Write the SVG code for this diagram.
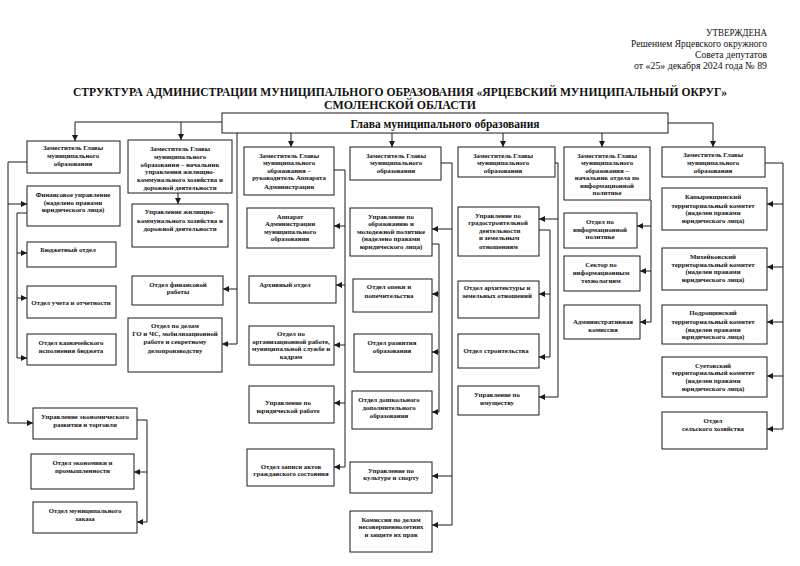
<svg xmlns="http://www.w3.org/2000/svg" width="800" height="566" viewBox="0 0 800 566">
<style>
.box{fill:#fff;stroke:#1a1a1a;stroke-width:1}
.t{font-family:"Liberation Serif","Times New Roman",serif;font-weight:bold;font-size:6.8px;text-anchor:middle;fill:#111}
.l{text-anchor:start}
.h{font-family:"Liberation Serif","Times New Roman",serif;font-size:10.5px;text-anchor:end;fill:#111}
.ti{font-family:"Liberation Serif","Times New Roman",serif;font-weight:bold;font-size:12.5px;text-anchor:middle;fill:#111}
.c{fill:none;stroke:#1a1a1a;stroke-width:1}
.a{fill:none;stroke:#1a1a1a;stroke-width:1;marker-end:url(#ah)}
</style>
<defs>
<marker id="ah" markerUnits="userSpaceOnUse" markerWidth="6" markerHeight="6" refX="6" refY="3" orient="auto">
<path d="M0,0 L6,3 L0,6 z" fill="#1a1a1a"/>
</marker>
</defs>
<rect width="800" height="566" fill="#fff"/>

<g id="header">
<text class="h" x="767" y="36" textLength="61" lengthAdjust="spacingAndGlyphs">УТВЕРЖДЕНА</text>
<text class="h" x="767" y="47" textLength="136" lengthAdjust="spacingAndGlyphs">Решением Ярцевского окружного</text>
<text class="h" x="767" y="57.5" textLength="72" lengthAdjust="spacingAndGlyphs">Совета депутатов</text>
<text class="h" x="767" y="69" textLength="133" lengthAdjust="spacingAndGlyphs">от  «25» декабря 2024 года № 89</text>
<text class="ti" x="400" y="96" textLength="654" lengthAdjust="spacingAndGlyphs">СТРУКТУРА АДМИНИСТРАЦИИ МУНИЦИПАЛЬНОГО ОБРАЗОВАНИЯ «ЯРЦЕВСКИЙ МУНИЦИПАЛЬНЫЙ ОКРУГ»</text>
<text class="ti" x="400" y="108.5" textLength="152" lengthAdjust="spacingAndGlyphs">СМОЛЕНСКОЙ ОБЛАСТИ</text>
</g>

<g id="connectors">
<path class="a" d="M222,122 H75 V141"/>
<path class="a" d="M181,122 V140"/>
<path class="c" d="M237,133 V289"/>
<path class="a" d="M237,289 H223"/>
<path class="a" d="M237,289 V344 H222"/>
<path class="a" d="M291,133 V147"/>
<path class="a" d="M392,133 V147"/>
<path class="a" d="M503,133 V147"/>
<path class="a" d="M602,133 V147"/>
<path class="a" d="M668,123 H713 V147"/>
<path class="a" d="M27,162 H8 V423 H33"/>
<path class="a" d="M8,204 H27"/>
<path class="a" d="M27,213 H17 V358 H27"/>
<path class="a" d="M17,253 H27"/>
<path class="a" d="M17,298 H27"/>
<path class="a" d="M137,420 H147 V522 H137"/>
<path class="a" d="M147,472 H134"/>
<path class="a" d="M178,193 V204"/>
<path class="a" d="M334,170 H345 V467 H334"/>
<path class="a" d="M345,226 H334"/>
<path class="a" d="M345,285 H336"/>
<path class="a" d="M345,345 H334"/>
<path class="a" d="M345,403 H334"/>
<path class="a" d="M441,163 H452 V525 H432"/>
<path class="a" d="M452,229 H432"/>
<path class="a" d="M452,476 H432"/>
<path class="a" d="M432,244 H439 V412 H432"/>
<path class="a" d="M439,294 H432"/>
<path class="a" d="M439,352 H432"/>
<path class="a" d="M555,163 H558 V397 H539"/>
<path class="a" d="M558,219 H539"/>
<path class="a" d="M539,230 H550 V357 H539"/>
<path class="a" d="M550,294 H539"/>
<path class="a" d="M651,200 V322 H640"/>
<path class="a" d="M651,226 H637"/>
<path class="a" d="M651,271 H640"/>
<path class="a" d="M765,163 H783 V429 H767"/>
<path class="a" d="M783,204 H767"/>
<path class="a" d="M783,267 H767"/>
<path class="a" d="M783,322 H767"/>
<path class="a" d="M783,376 H767"/>
</g>

<g id="n-glava"><rect class="box" x="222" y="113" width="446" height="20"/><text class="t" x="445" y="128" style="font-size:12.5px" textLength="189" lengthAdjust="spacingAndGlyphs">Глава муниципального образования</text></g>

<g id="n-z1"><rect class="box" x="27" y="141" width="93" height="32"/><text class="t"><tspan x="73" y="150">Заместитель Главы</tspan><tspan x="73" y="158">муниципального</tspan><tspan x="73" y="166">образования</tspan></text></g>
<g id="n-fin"><rect class="box" x="27" y="186" width="93" height="40"/><text class="t"><tspan x="73" y="196.5">Финансовое управление</tspan><tspan x="73" y="204.5">(наделено правами</tspan><tspan x="73" y="212">юридического лица)</tspan></text></g>
<g id="n-bud"><rect class="box" x="27" y="242" width="89" height="25"/><text class="t" x="68" y="251.5">Бюджетный отдел</text></g>
<g id="n-uch"><rect class="box" x="27" y="286" width="89" height="32"/><text class="t" x="71" y="304.5">Отдел учета и отчетности</text></g>
<g id="n-kazn"><rect class="box" x="27" y="334" width="89" height="31"/><text class="t"><tspan x="71" y="344.5">Отдел казначейского</tspan><tspan x="71" y="352.5">исполнения бюджета</tspan></text></g>
<g id="n-econ"><rect class="box" x="33" y="408" width="104" height="31"/><text class="t"><tspan x="85" y="419">Управление экономического</tspan><tspan x="85" y="427">развития и торговли</tspan></text></g>
<g id="n-ekprom"><rect class="box" x="31" y="454" width="103" height="35"/><text class="t"><tspan x="82.5" y="465">Отдел экономики и</tspan><tspan x="82.5" y="472.5">промышленности</tspan></text></g>
<g id="n-zakaz"><rect class="box" x="33" y="502" width="104" height="31"/><text class="t"><tspan x="85" y="513">Отдел муниципального</tspan><tspan x="85" y="521">заказа</tspan></text></g>

<g id="n-z2"><rect class="box" x="128" y="140" width="104" height="53"/><text class="t"><tspan x="180" y="151">Заместитель Главы</tspan><tspan x="180" y="158.5">муниципального</tspan><tspan x="180" y="166.5">образования – начальник</tspan><tspan x="180" y="174">управления жилищно-</tspan><tspan x="180" y="182">коммунального хозяйства и</tspan><tspan x="180" y="189.5">дорожной деятельности</tspan></text></g>
<g id="n-zhkh"><rect class="box" x="132" y="204" width="96" height="43"/><text class="t"><tspan x="180" y="214">Управление жилищно-</tspan><tspan x="180" y="222.5">коммунального хозяйства и</tspan><tspan x="180" y="231">дорожной деятельности</tspan></text></g>
<g id="n-finrab"><rect class="box" x="132" y="276" width="91" height="29"/><text class="t"><tspan x="178" y="286.5">Отдел финансовой</tspan><tspan x="178" y="294">работы</tspan></text></g>
<g id="n-gochs"><rect class="box" x="128" y="318" width="94" height="54"/><text class="t"><tspan x="175" y="327.5">Отдел по делам</tspan><tspan x="175" y="336">ГО и ЧС, мобилизационной</tspan><tspan x="175" y="344">работе и секретному</tspan><tspan x="175" y="352.5">делопроизводству</tspan></text></g>

<g id="n-z3"><rect class="box" x="244" y="147" width="90" height="48"/><text class="t"><tspan x="289" y="157.5">Заместитель Главы</tspan><tspan x="289" y="165">муниципального</tspan><tspan x="289" y="172.5">образования –</tspan><tspan x="289" y="180">руководитель  Аппарата</tspan><tspan x="289" y="188.5">Администрации</tspan></text></g>
<g id="n-apparat"><rect class="box" x="247" y="208" width="87" height="40"/><text class="t"><tspan x="290" y="218.5">Аппарат</tspan><tspan x="290" y="226">Администрации</tspan><tspan x="290" y="233.5">муниципального</tspan><tspan x="290" y="241">образования</tspan></text></g>
<g id="n-arhiv"><rect class="box" x="249" y="276" width="87" height="27"/><text class="t" x="285" y="286.5">Архивный отдел</text></g>
<g id="n-orgrab"><rect class="box" x="249" y="326" width="85" height="39"/><text class="t"><tspan x="291" y="336">Отдел по</tspan><tspan x="291" y="343.5">организационной работе,</tspan><tspan x="291" y="351">муниципальной службе и</tspan><tspan x="291" y="358.5">кадрам</tspan></text></g>
<g id="n-yurid"><rect class="box" x="249" y="386" width="85" height="37"/><text class="t"><tspan x="288" y="405">Управление по</tspan><tspan x="288" y="413">юридической работе</tspan></text></g>
<g id="n-zags"><rect class="box" x="247" y="449" width="87" height="37"/><text class="t"><tspan x="291" y="468.5">Отдел записи актов</tspan><tspan x="291" y="476">гражданского состояния</tspan></text></g>

<g id="n-z4"><rect class="box" x="350" y="147" width="91" height="33"/><text class="t"><tspan x="396" y="157.5">Заместитель Главы</tspan><tspan x="396" y="165">муниципального</tspan><tspan x="396" y="172.5">образования</tspan></text></g>
<g id="n-obraz"><rect class="box" x="350" y="208" width="82" height="48"/><text class="t"><tspan x="391" y="218.5">Управление по</tspan><tspan x="391" y="226">образованию и</tspan><tspan x="391" y="233.5">молодежной политике</tspan><tspan x="391" y="241">(наделено правами</tspan><tspan x="391" y="249">юридического лица)</tspan></text></g>
<g id="n-opeka"><rect class="box" x="353" y="279" width="79" height="33"/><text class="t"><tspan x="389" y="289">Отдел опеки и</tspan><tspan x="389" y="297.5">попечительства</tspan></text></g>
<g id="n-razv"><rect class="box" x="354" y="334" width="78" height="38"/><text class="t"><tspan x="392" y="345">Отдел развития</tspan><tspan x="392" y="352.5">образования</tspan></text></g>
<g id="n-doshk"><rect class="box" x="352" y="391" width="80" height="38"/><text class="t"><tspan x="389" y="402">Отдел дошкольного</tspan><tspan x="389" y="409.5">дополнительного</tspan><tspan x="389" y="417.5">образования</tspan></text></g>
<g id="n-kult"><rect class="box" x="350" y="462" width="82" height="31"/><text class="t"><tspan x="391" y="472.5">Управление по</tspan><tspan x="391" y="480">культуре и спорту</tspan></text></g>
<g id="n-komis"><rect class="box" x="350" y="511" width="82" height="41"/><text class="t"><tspan x="391" y="521.5">Комиссия по делам</tspan><tspan x="391" y="529">несовершеннолетних</tspan><tspan x="391" y="536.5">и защите их прав</tspan></text></g>

<g id="n-z5"><rect class="box" x="458" y="147" width="97" height="30"/><text class="t"><tspan x="503" y="157.5">Заместитель Главы</tspan><tspan x="503" y="165">муниципального</tspan><tspan x="503" y="172.5">образования</tspan></text></g>
<g id="n-grad"><rect class="box" x="458" y="207" width="81" height="49"/><text class="t"><tspan x="498" y="217.5">Управление по</tspan><tspan x="498" y="225">градостроительной</tspan><tspan class="l" x="479" y="232.5">деятельности</tspan><tspan class="l" x="479" y="240">и земельным</tspan><tspan class="l" x="479" y="248.5">отношениям</tspan></text></g>
<g id="n-arh"><rect class="box" x="458" y="281" width="81" height="37"/><text class="t"><tspan x="497" y="290">Отдел архитектуры и</tspan><tspan x="497" y="297.5">земельных отношений</tspan></text></g>
<g id="n-stroi"><rect class="box" x="458" y="334" width="81" height="34"/><text class="t" x="496" y="352.5">Отдел строительства</text></g>
<g id="n-imush"><rect class="box" x="458" y="386" width="81" height="29"/><text class="t"><tspan x="497" y="397">Управление по</tspan><tspan x="497" y="404.5">имуществу</tspan></text></g>

<g id="n-z6"><rect class="box" x="564" y="147" width="86" height="53"/><text class="t"><tspan x="607" y="157.5">Заместитель Главы</tspan><tspan x="607" y="165">муниципального</tspan><tspan x="607" y="172.5">образования –</tspan><tspan x="607" y="180">начальник отдела по</tspan><tspan x="607" y="187.5">информационной</tspan><tspan x="607" y="195">политике</tspan></text></g>
<g id="n-infpol"><rect class="box" x="564" y="213" width="73" height="35"/><text class="t"><tspan x="600" y="223.5">Отдел по</tspan><tspan x="600" y="231.5">информационной</tspan><tspan x="600" y="239">политике</tspan></text></g>
<g id="n-sektor"><rect class="box" x="564" y="256" width="76" height="35"/><text class="t"><tspan x="601" y="266.5">Сектор по</tspan><tspan x="601" y="275">информационным</tspan><tspan x="601" y="282.5">технологиям</tspan></text></g>
<g id="n-adm"><rect class="box" x="564" y="305" width="76" height="34"/><text class="t"><tspan x="603" y="323.5">Административная</tspan><tspan x="603" y="331.5">комиссия</tspan></text></g>

<g id="n-z7"><rect class="box" x="662" y="147" width="103" height="30"/><text class="t"><tspan x="713" y="157">Заместитель Главы</tspan><tspan x="713" y="165">муниципального</tspan><tspan x="713" y="172.5">образования</tspan></text></g>
<g id="n-kap"><rect class="box" x="662" y="188" width="105" height="42"/><text class="t"><tspan x="713" y="199">Капыревщинский</tspan><tspan x="713" y="207.5">территориальный комитет</tspan><tspan x="713" y="215">(наделен правами</tspan><tspan x="713" y="222.5">юридического лица)</tspan></text></g>
<g id="n-mih"><rect class="box" x="662" y="248" width="105" height="42"/><text class="t"><tspan x="713" y="258.5">Михейковский</tspan><tspan x="713" y="266.5">территориальный комитет</tspan><tspan x="713" y="274">(наделен правами</tspan><tspan x="713" y="282">юридического лица)</tspan></text></g>
<g id="n-podr"><rect class="box" x="662" y="305" width="105" height="39"/><text class="t"><tspan x="713" y="315">Подрощинский</tspan><tspan x="713" y="323.5">территориальный комитет</tspan><tspan x="713" y="331.5">(наделен правами</tspan><tspan x="713" y="339">юридического лица)</tspan></text></g>
<g id="n-suet"><rect class="box" x="662" y="357" width="105" height="40"/><text class="t"><tspan x="713" y="367.5">Суетовский</tspan><tspan x="713" y="375">территориальный комитет</tspan><tspan x="713" y="383">(наделен правами</tspan><tspan x="713" y="391">юридического лица)</tspan></text></g>
<g id="n-selh"><rect class="box" x="662" y="412" width="105" height="37"/><text class="t"><tspan x="713" y="422.5">Отдел</tspan><tspan x="713" y="431">сельского хозяйства</tspan></text></g>
</svg>
